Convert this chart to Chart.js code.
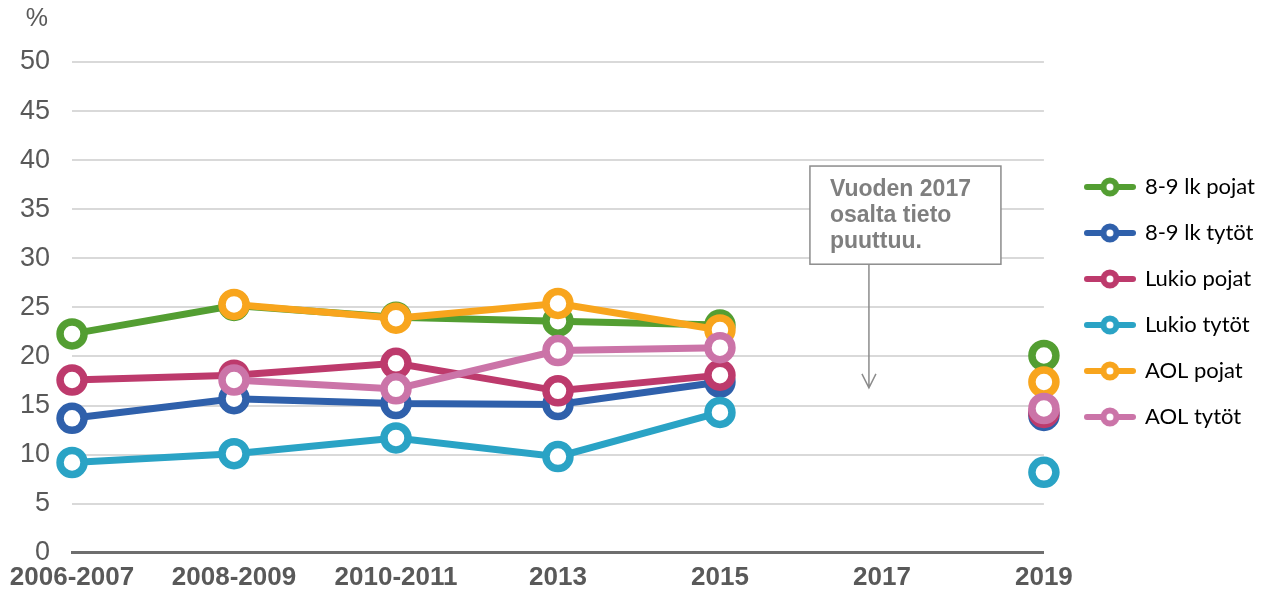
<!DOCTYPE html>
<html>
<head>
<meta charset="utf-8">
<script src="https://cdn.jsdelivr.net/npm/chart.js@4.4.0/dist/chart.umd.min.js"></script>
<style>
  html, body { margin: 0; padding: 0; background: #fff; }
  #wrap { width: 1271px; height: 596px; }
</style>
</head>
<body>
<div id="wrap"><canvas id="myChart"></canvas></div>
<script>
const years = ['2006-2007', '2008-2009', '2010-2011', '2013', '2015', '2017', '2019'];
const yTicks = [0, 5, 10, 15, 20, 25, 30, 35, 40, 45, 50];

const poikaPerus = [22.3, 25.2, 24.0, 23.6, 23.2, null, 20.1];
const tyttoPerus = [13.7, 15.7, 15.2, 15.1, 17.4, null, 14.0];
const poikaLukio = [17.6, 18.1, 19.3, 16.5, 18.1, null, 14.3];
const tyttoLukio = [9.2, 10.1, 11.7, 9.8, 14.3, null, 8.2];
const poikaAol = [null, 25.3, 23.9, 25.4, 22.7, null, 17.4];
const tyttoAol = [null, 17.6, 16.7, 20.6, 20.9, null, 14.7];

const seriesNames = ['8-9 lk pojat', '8-9 lk tytöt', 'Lukio pojat', 'Lukio tytöt', 'AOL pojat', 'AOL tytöt'];
const seriesColors = ['#539e32', '#2f60ab', '#bd3a6c', '#2aa3c5', '#f8a51d', '#cb74a8'];
const seriesData = [poikaPerus, tyttoPerus, poikaLukio, tyttoLukio, poikaAol, tyttoAol];

const noteLines = ['Vuoden 2017', 'osalta tieto', 'puuttuu.'];

// legend sample: a short line with a ring on it
function legendIcon(color) {
  const c = document.createElement('canvas');
  c.width = 52; c.height = 22;
  const g = c.getContext('2d');
  g.strokeStyle = color;
  g.lineCap = 'round';
  g.lineWidth = 6;
  g.beginPath(); g.moveTo(3, 11); g.lineTo(49, 11); g.stroke();
  g.beginPath(); g.arc(26, 11, 6.5, 0, Math.PI * 2);
  g.fillStyle = '#fff'; g.fill();
  g.lineWidth = 6; g.stroke();
  return c;
}
const icons = seriesColors.map(legendIcon);

const datasets = seriesNames.map((name, i) => ({
  label: name,
  data: seriesData[i],
  borderColor: seriesColors[i],
  backgroundColor: '#fff',
  borderWidth: 7,
  pointRadius: 12,
  pointBorderWidth: 7.5,
  pointBackgroundColor: '#fff',
  pointBorderColor: seriesColors[i],
  spanGaps: false,
  clip: false,
  order: seriesNames.length - i
}));

const extras = {
  id: 'extras',
  afterDraw(chart) {
    const ctx = chart.ctx;
    const x = chart.scales.x, y = chart.scales.y;
    ctx.save();
    // % label
    ctx.fillStyle = '#595959';
    ctx.font = '25px "Liberation Sans", Arial, sans-serif';
    ctx.textAlign = 'right';
    ctx.textBaseline = 'middle';
    ctx.fillText('%', 48, 19);
    // note box
    const cx = x.getPixelForValue(5);
    const left = cx - 72, right = cx + 119;
    const top = y.getPixelForValue(39.4), bottom = y.getPixelForValue(29.4);
    ctx.fillStyle = '#fff';
    ctx.fillRect(left, top, right - left, bottom - top);
    ctx.strokeStyle = '#8c8c8c';
    ctx.lineWidth = 1.5;
    ctx.strokeRect(left, top, right - left, bottom - top);
    ctx.fillStyle = '#7f7f7f';
    ctx.font = 'bold 23px "Liberation Sans", Arial, sans-serif';
    ctx.textAlign = 'left';
    ctx.textBaseline = 'middle';
    noteLines.forEach((t, i) => ctx.fillText(t, left + 20, top + 24 + i * 26));
    // arrow
    const ax = cx - 13;
    const ay = y.getPixelForValue(16.8);
    ctx.strokeStyle = '#8c8c8c';
    ctx.lineWidth = 1.5;
    ctx.beginPath();
    ctx.moveTo(ax, bottom); ctx.lineTo(ax, ay);
    ctx.moveTo(ax - 7, ay - 14); ctx.lineTo(ax, ay); ctx.lineTo(ax + 7, ay - 14);
    ctx.stroke();
    ctx.restore();
  }
};

// empty axes only used to reserve room above and right of the plot
const spacer = size => ({
  type: 'linear',
  display: true,
  grid: { display: false, drawTicks: false },
  border: { display: false },
  ticks: { display: false },
  afterFit(s) { if (s.isHorizontal()) s.height = size; else s.width = size; }
});

const ctx = document.getElementById('myChart').getContext('2d');
const myChart = new Chart(ctx, {
  type: 'line',
  data: { labels: years, datasets: datasets },
  plugins: [extras],
  options: {
    responsive: true,
    maintainAspectRatio: false,
    animation: false,
    layout: { autoPadding: false, padding: { top: 2, left: -2, right: 6, bottom: -6 } },
    plugins: {
      tooltip: { enabled: false },
      legend: {
        position: 'right',
        align: 'center',
        labels: {
          usePointStyle: true,
          pointStyleWidth: 48,
          boxHeight: 22,
          padding: 24,
          color: '#000',
          sort: (a, b) => a.datasetIndex - b.datasetIndex,
          font: { family: 'Lato, "Noto Sans", sans-serif', size: 22 },
          generateLabels(chart) {
            const items = Chart.defaults.plugins.legend.labels.generateLabels(chart);
            items.forEach(it => { it.pointStyle = icons[it.datasetIndex]; });
            return items;
          }
        }
      }
    },
    scales: {
      x: {
        offset: false,
        grid: { display: false, drawTicks: false },
        border: { display: true, color: '#6e6e6e', width: 3 },
        ticks: {
          color: '#595959',
          padding: 9,
          maxRotation: 0,
          autoSkip: false,
          font: { family: '"Liberation Sans", Arial, sans-serif', size: 26, weight: 'bold' }
        }
      },
      y: {
        min: 0,
        max: 50,
        afterBuildTicks(scale) { scale.ticks = yTicks.map(v => ({ value: v })); },
        grid: {
          drawTicks: false,
          color: c => c.tick.value === 0 ? 'rgba(0,0,0,0)' : '#d9d9d9',
          lineWidth: 2
        },
        border: { display: false },
        ticks: {
          color: '#595959',
          padding: 22,
          font: { family: '"Liberation Sans", Arial, sans-serif', size: 27 }
        }
      },
      xTop: Object.assign({ axis: 'x', position: 'top' }, spacer(60)),
      yRight: Object.assign({ axis: 'y', position: 'right' }, spacer(18))
    }
  }
});
</script>
</body>
</html>
